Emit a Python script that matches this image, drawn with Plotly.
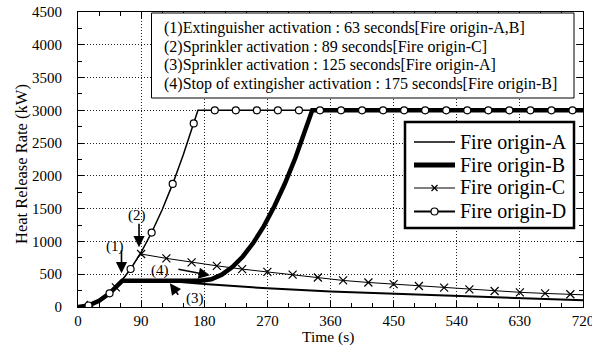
import plotly.graph_objects as go

# ---------------- data ----------------
time_A = [0, 15, 30, 45, 63, 125, 180, 270, 360, 450, 540, 630, 720]
hrr_A = [0, 23, 93, 209, 400, 400, 350, 285, 235, 200, 168, 135, 103]

time_B = [0, 15, 30, 45, 63, 175, 190, 205, 220, 235, 250, 265, 280, 295, 310, 325, 334, 720]
hrr_B = [0, 23, 93, 209, 400, 400, 423, 493, 609, 771, 979, 1234, 1536, 1883, 2277, 2718, 3000, 3000]

time_C = [0, 18, 36, 54, 72, 89, 126, 162, 198, 234, 270, 306, 342, 378, 414, 450, 486, 522, 558, 594, 630, 666, 702, 720]
hrr_C = [0, 33, 133, 300, 534, 810, 742, 680, 628, 578, 535, 493, 450, 405, 374, 348, 320, 296, 268, 244, 224, 207, 194, 186]
time_C_marks = [18, 54, 90, 126, 162, 198, 234, 270, 306, 342, 378, 414, 450, 486, 522, 558, 594, 630, 666, 702]
hrr_C_marks = [33, 300, 808, 742, 680, 628, 578, 535, 493, 450, 405, 374, 348, 320, 296, 268, 244, 224, 207, 194]

time_D = [0, 15, 30, 45, 60, 75, 90, 105, 120, 135, 150, 165, 171, 720]
hrr_D = [0, 23, 93, 209, 371, 580, 835, 1136, 1484, 1878, 2318, 2800, 3000, 3000]
time_D_marks = [15, 45, 75, 105, 135, 165, 195, 225, 255, 285, 315, 345, 375, 405, 435, 465, 495, 525, 555, 585, 615, 645, 675, 705]
hrr_D_marks = [23, 209, 580, 1136, 1878, 2800, 3000, 3000, 3000, 3000, 3000, 3000, 3000, 3000, 3000, 3000, 3000, 3000, 3000, 3000, 3000, 3000, 3000, 3000]

series_names = ["Fire origin-A", "Fire origin-B", "Fire origin-C", "Fire origin-D"]
event_notes = [
    "(1)Extinguisher activation : 63 seconds[Fire origin-A,B]",
    "(2)Sprinkler activation : 89 seconds[Fire origin-C]",
    "(3)Sprinkler activation : 125 seconds[Fire origin-A]",
    "(4)Stop of extingisher activation : 175 seconds[Fire origin-B]",
]
x_ticks = [0, 90, 180, 270, 360, 450, 540, 630, 720]
y_ticks = [0, 500, 1000, 1500, 2000, 2500, 3000, 3500, 4000, 4500]

FONT = "Liberation Serif"
W, H = 592, 350
L, R, T, B = 78, 9, 12, 43
PW, PH = W - L - R, H - T - B


def px(xp):
    return (xp - L) / PW


def py(yp):
    return (H - B - yp) / PH


fig = go.Figure()

fig.add_trace(go.Scatter(x=time_A, y=hrr_A, mode="lines", line=dict(color="black", width=2), showlegend=False))
fig.add_trace(go.Scatter(x=time_B, y=hrr_B, mode="lines", line=dict(color="black", width=4.5), showlegend=False))
fig.add_trace(go.Scatter(x=time_C, y=hrr_C, mode="lines", line=dict(color="black", width=1), showlegend=False))
fig.add_trace(go.Scatter(x=time_C_marks, y=hrr_C_marks, mode="markers",
                         marker=dict(symbol="x-thin", size=8, line=dict(color="black", width=1.2)), showlegend=False))
fig.add_trace(go.Scatter(x=time_D, y=hrr_D, mode="lines", line=dict(color="black", width=1.5), showlegend=False))
fig.add_trace(go.Scatter(x=time_D_marks, y=hrr_D_marks, mode="markers",
                         marker=dict(symbol="circle", size=7, color="white", line=dict(color="black", width=1.2)),
                         showlegend=False))

# ---- manual legend / note box (shapes drawn above the plot) ----
leg_rows = [142, 165, 188, 211.5]
leg_x0, leg_x1, leg_text = 414, 455, 458
leg_widths = [1.5, 5, 1, 2]
leg_symbols = [None, None, "x", "o"]
shapes = [
    dict(type="rect", xref="paper", yref="paper", x0=px(151.5), x1=px(574), y0=py(13), y1=py(98),
         line=dict(color="black", width=1), fillcolor="white", layer="above"),
    dict(type="rect", xref="paper", yref="paper", x0=px(405), x1=px(574), y0=py(122), y1=py(228),
         line=dict(color="black", width=2.5), fillcolor="white", layer="above"),
]
cx = (leg_x0 + leg_x1) / 2
for yy, lw, sym in zip(leg_rows, leg_widths, leg_symbols):
    shapes.append(dict(type="line", xref="paper", yref="paper", x0=px(leg_x0), x1=px(leg_x1), y0=py(yy), y1=py(yy),
                       line=dict(color="black", width=lw), layer="above"))
    if sym == "x":
        for s in (1, -1):
            shapes.append(dict(type="line", xref="paper", yref="paper", x0=px(cx - 3), x1=px(cx + 3),
                               y0=py(yy - 3 * s), y1=py(yy + 3 * s), line=dict(color="black", width=1.2),
                               layer="above"))
    elif sym == "o":
        shapes.append(dict(type="circle", xref="paper", yref="paper", xsizemode="pixel", ysizemode="pixel",
                           xanchor=px(cx), yanchor=py(yy), x0=-3.5, x1=3.5, y0=-3.5, y1=3.5,
                           line=dict(color="black", width=1.2), fillcolor="white", layer="above"))

annotations = []
for yy, name in zip(leg_rows, series_names):
    annotations.append(dict(xref="paper", yref="paper", x=px(leg_text), y=py(yy), text=name, showarrow=False,
                            xanchor="left", yanchor="middle", font=dict(family=FONT, size=20, color="black")))

for yy, note in zip([28.3, 46.7, 65.2, 84], event_notes):
    annotations.append(dict(xref="paper", yref="paper", x=px(162), y=py(yy), text=note, showarrow=False,
                            xanchor="left", yanchor="middle", font=dict(family=FONT, size=16, color="black")))

arrows = [(62, 514, 62, 895), (87, 911, 87, 1301), (131, 361, 145, 157), (188, 483, 141, 580)]
for hx, hy, tx, ty in arrows:
    annotations.append(dict(x=hx, y=hy, ax=tx, ay=ty, xref="x", yref="y", axref="x", ayref="y", text=" ",
                            font=dict(size=1), showarrow=True, arrowhead=2, arrowsize=1.4, arrowwidth=1.6,
                            arrowcolor="black", standoff=0, startstandoff=0))
labels = [(52.8, 923, "(1)"), (84.6, 1393, "(2)"), (166.8, 130, "(3)"), (117, 554, "(4)")]
for lx, ly, lt in labels:
    annotations.append(dict(x=lx, y=ly, xref="x", yref="y", text=lt, showarrow=False,
                            xanchor="center", yanchor="middle",
                            font=dict(family=FONT, size=15, color="black")))

annotations.append(dict(xref="paper", yref="paper", x=px(21), y=py(164), text="Heat Release Rate (kW)",
                        textangle=-90, showarrow=False, xanchor="center", yanchor="middle",
                        font=dict(family=FONT, size=16.5, color="black")))
annotations.append(dict(xref="paper", yref="paper", x=px(328), y=py(337), text="Time (s)",
                        showarrow=False, xanchor="center", yanchor="middle",
                        font=dict(family=FONT, size=15.5, color="black")))

axis_common = dict(showline=True, linecolor="black", linewidth=1, mirror="ticks", ticks="inside", ticklen=6,
                   tickcolor="black", tickwidth=1, showgrid=True, gridcolor="#222", gridwidth=1,
                   griddash="1px,2px", zeroline=False, automargin=False,
                   tickfont=dict(family=FONT, size=15, color="black"))

fig.update_layout(
    width=W, height=H, margin=dict(l=L, r=R, t=T, b=B, autoexpand=False),
    paper_bgcolor="white", plot_bgcolor="white", showlegend=False,
    xaxis=dict(range=[0, 720], tickvals=x_ticks, minor=dict(dtick=30, tick0=0, ticks="inside", ticklen=4,
                                                             tickcolor="black", showgrid=False),
               ticklabelstandoff=0, ticklabeloverflow="allow", **axis_common),
    yaxis=dict(range=[0, 4500], tickvals=y_ticks, minor=dict(dtick=250, tick0=0, ticks="inside", ticklen=4,
                                                              tickcolor="black", showgrid=False),
               ticklabelstandoff=12, **axis_common),
    shapes=shapes, annotations=annotations,
)

fig.write_html("out.html", config={"displayModeBar": False},
               post_script="document.body.style.margin='0';document.body.style.padding='0';")
